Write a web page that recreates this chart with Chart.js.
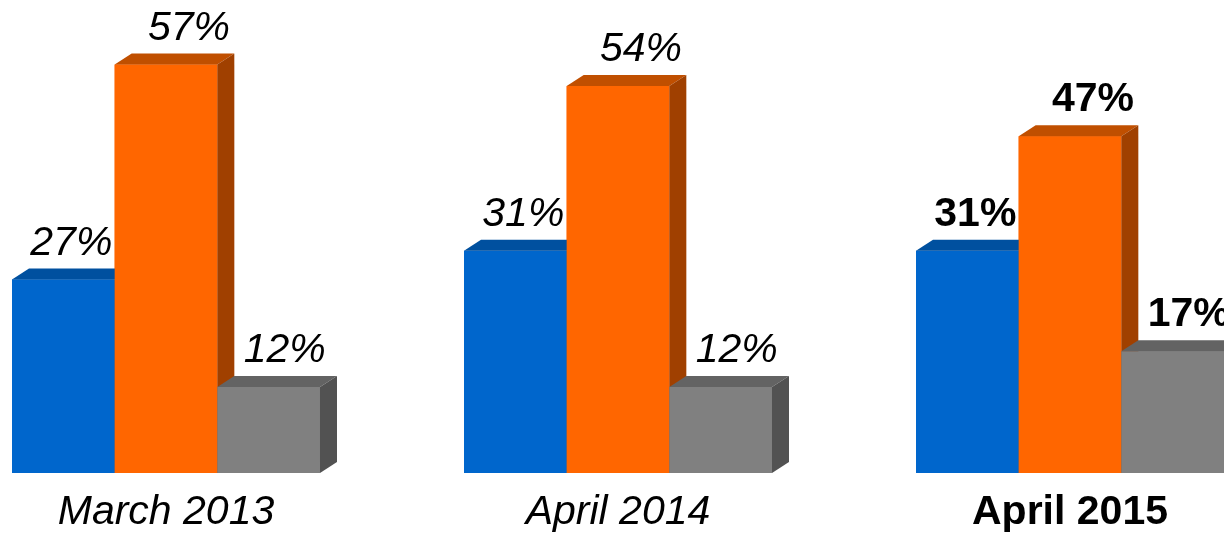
<!DOCTYPE html>
<html lang="en">
<head>
    <meta charset="UTF-8">
    <title>Survey results</title>
    <script src="https://cdn.jsdelivr.net/npm/chart.js"></script>
    <style>
        html, body { margin: 0; padding: 0; background: #fff; overflow: hidden; }
        #wrap { position: absolute; left: -60px; top: 0; width: 1356px; height: 533px; }
    </style>
</head>
<body>
    <div id="wrap"><canvas id="myChart"></canvas></div>

    <script>
        const categories = ["March 2013", "April 2014", "April 2015"];
        const blueValues = [27, 31, 31];
        const orangeValues = [57, 54, 47];
        const grayValues = [12, 12, 17];

        // front, top and side colours of each series
        const faces = [
            { front: '#0066CC', top: '#00509F', side: '#004080', dx: 8 },
            { front: '#FF6600', top: '#C04F00', side: '#A04000', dx: 23 },
            { front: '#808080', top: '#636363', side: '#525252', dx: 16 }
        ];
        const depthX = 17, depthY = 11;
        const FONT = '"Liberation Sans", Arial, sans-serif';

        function labelFont(i) {
            return i === 2 ? 'bold 41px ' + FONT : 'italic 41px ' + FONT;
        }

        // redraws every bar as a box, group by group, left to right,
        // so each bar covers the side face of the one before it
        const bar3d = {
            id: 'bar3d',
            afterDatasetsDraw(chart) {
                const ctx = chart.ctx;
                const metas = chart.data.datasets.map((ds, di) => chart.getDatasetMeta(di));
                ctx.save();
                categories.forEach(function (cat, i) {
                    metas.forEach(function (meta, di) {
                        const bar = meta.data[i];
                        const f = faces[di];
                        const l = bar.x - bar.width / 2, r = bar.x + bar.width / 2;
                        const t = bar.y, b = bar.base;
                        ctx.fillStyle = f.front;
                        ctx.fillRect(l, t, r - l, b - t);
                        ctx.fillStyle = f.top;
                        ctx.beginPath();
                        ctx.moveTo(l, t);
                        ctx.lineTo(l + depthX, t - depthY);
                        ctx.lineTo(r + depthX, t - depthY);
                        ctx.lineTo(r, t);
                        ctx.closePath();
                        ctx.fill();
                        ctx.fillStyle = f.side;
                        ctx.beginPath();
                        ctx.moveTo(r, t);
                        ctx.lineTo(r + depthX, t - depthY);
                        ctx.lineTo(r + depthX, b - depthY);
                        ctx.lineTo(r, b);
                        ctx.closePath();
                        ctx.fill();
                    });
                });
                // value labels
                ctx.fillStyle = '#000';
                ctx.textAlign = 'center';
                ctx.textBaseline = 'alphabetic';
                chart.data.datasets.forEach(function (ds, di) {
                    metas[di].data.forEach(function (bar, i) {
                        ctx.font = labelFont(i);
                        ctx.fillText(ds.data[i] + '%', bar.x + faces[di].dx, bar.y - 25);
                    });
                });
                ctx.restore();
            }
        };

        const ctx = document.getElementById('myChart').getContext('2d');
        new Chart(ctx, {
            type: 'bar',
            data: {
                labels: categories,
                datasets: [
                    { data: blueValues, backgroundColor: faces[0].front },
                    { data: orangeValues, backgroundColor: faces[1].front },
                    { data: grayValues, backgroundColor: faces[2].front }
                ]
            },
            options: {
                responsive: true,
                maintainAspectRatio: false,
                animation: false,
                layout: { padding: 0 },
                datasets: { bar: { barPercentage: 1, categoryPercentage: 0.6814 } },
                plugins: { legend: { display: false }, tooltip: { enabled: false } },
                scales: {
                    x: {
                        grid: { display: false, drawTicks: false },
                        border: { display: false },
                        afterFit: function (scale) { scale.height = 60; },
                        ticks: {
                            color: '#000',
                            padding: 15,
                            maxRotation: 0,
                            font: function (c) {
                                return {
                                    family: FONT,
                                    size: 41,
                                    lineHeight: 1.2,
                                    style: c.index === 2 ? 'normal' : 'italic',
                                    weight: c.index === 2 ? 'bold' : 'normal'
                                };
                            }
                        }
                    },
                    y: { display: false, min: 0, max: 66 }
                }
            },
            plugins: [bar3d]
        });
    </script>
</body>
</html>
